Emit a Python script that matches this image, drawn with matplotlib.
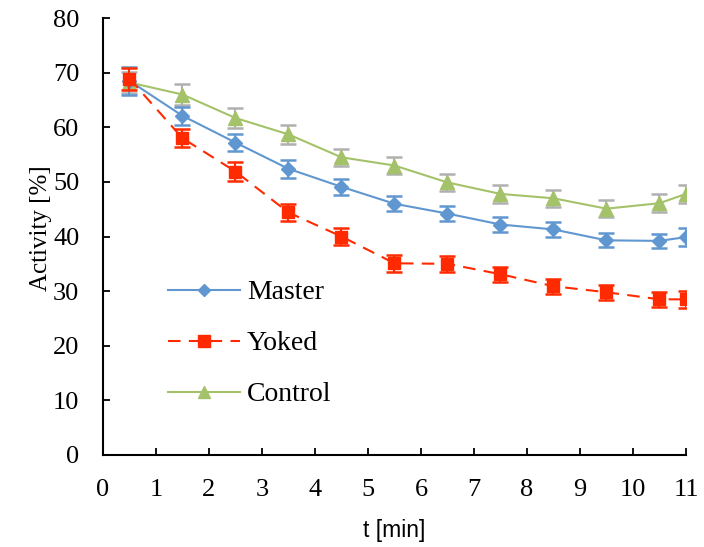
import matplotlib
matplotlib.use("Agg")
import matplotlib.pyplot as plt
from matplotlib.lines import Line2D

t_min = [0.5, 1.5, 2.5, 3.5, 4.5, 5.5, 6.5, 7.5, 8.5, 9.5, 10.5, 11]

master = [68.5, 62.1, 57.2, 52.4, 49.1, 46.0, 44.2, 42.2, 41.3, 39.3, 39.2, 39.9]
master_err = [2.5, 1.6, 1.6, 1.6, 1.5, 1.4, 1.4, 1.3, 1.3, 1.3, 1.3, 1.7]

yoked = [68.9, 58.0, 51.9, 44.4, 40.0, 35.1, 35.0, 33.1, 30.9, 29.8, 28.5, 28.5]
yoked_err = [2.0, 1.7, 1.7, 1.6, 1.6, 1.6, 1.5, 1.4, 1.4, 1.4, 1.4, 1.6]

control = [68.2, 66.0, 61.7, 58.7, 54.5, 53.0, 49.9, 47.8, 47.0, 45.1, 46.1, 47.8]
control_err = [2.0, 1.9, 1.8, 1.7, 1.6, 1.6, 1.6, 1.6, 1.6, 1.6, 1.6, 1.6]

x_ticks = list(range(0, 12))
y_ticks = list(range(0, 90, 10))

serif = ["Liberation Serif", "DejaVu Serif"]
sans = ["Liberation Sans", "DejaVu Sans"]

fig = plt.figure(figsize=(7.04, 5.47), dpi=100)
ax = fig.add_axes([0.1463, 0.1682, 0.8281, 0.7988])

blue = "#6197D0"
red = "#FF2A00"
green = "#A4C26A"
grey = "#B0B0B0"

common = dict(capsize=6, capthick=1.8, elinewidth=1.5, lw=1.5)
dash = (0, (6, 4))

ax.errorbar(t_min, control, yerr=control_err, color=green, ecolor=grey,
            marker="^", ms=10, zorder=2, **common)
ax.errorbar(t_min, master, yerr=master_err, color=blue, ecolor=blue,
            marker="D", ms=7, zorder=3, **common)
ax.errorbar(t_min, yoked, yerr=yoked_err, color=red, ecolor=red,
            marker="s", ms=9, ls=dash, zorder=4, **common)

ax.set_xlim(0, 11)
ax.set_ylim(0, 80)
ax.set_xticks(x_ticks)
ax.set_yticks(y_ticks)
ax.tick_params(direction="in", length=5, width=1.3, labelsize=19)
ax.tick_params(axis="x", pad=17)
ax.tick_params(axis="y", pad=17)
for lab in ax.get_xticklabels() + ax.get_yticklabels():
    lab.set_family(serif)
ax.spines["top"].set_visible(False)
ax.spines["right"].set_visible(False)
for s in ("left", "bottom"):
    ax.spines[s].set_linewidth(1.5)

ax.set_xlabel("t [min]", fontsize=16.5, family=sans, labelpad=13)
ax.set_ylabel("Activity [%]", fontsize=18, family=serif, labelpad=1)
ax.yaxis.label.set_y(0.52)

# legend entries drawn without error bars
proxies = [
    Line2D([], [], color=blue, lw=1.5, marker="D", ms=6),
    Line2D([], [], color=red, lw=1.5, ls=dash, marker="s", ms=8),
    Line2D([], [], color=green, lw=1.5, marker="^", ms=9),
]
ax.legend(proxies, ["Master", "Yoked", "Control"],
          loc="upper left", bbox_to_anchor=(168 / 704, 1 - 280 / 547),
          bbox_transform=fig.transFigure, frameon=False, borderpad=0,
          borderaxespad=0, prop={"family": serif, "size": 20},
          handlelength=2.6, labelspacing=0.92, handletextpad=0.25)

fig.savefig("out.png", dpi=100)
